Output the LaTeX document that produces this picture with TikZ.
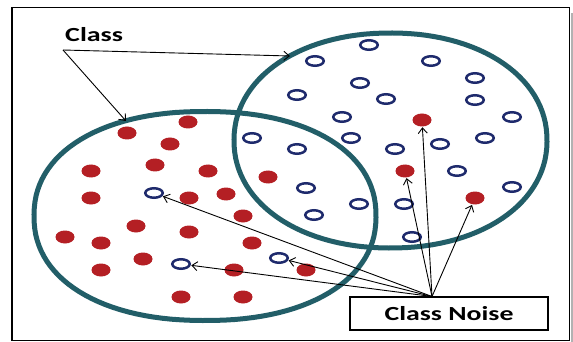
\documentclass[tikz,border=0pt]{standalone}
\usepackage{fontspec}
\setmainfont{Carlito}
\usetikzlibrary{arrows.meta,shapes.geometric}
\definecolor{ringc}{RGB}{34,94,104}
\definecolor{dotred}{RGB}{180,31,36}
\definecolor{dotblue}{RGB}{30,42,108}
\tikzset{
  ring/.style={draw=ringc, line width=5pt},
  rdot/.style={ellipse, fill=dotred, minimum width=19pt, minimum height=13pt, inner sep=0pt},
  bdot/.style={ellipse, draw=dotblue, line width=2.5pt, fill=white, minimum width=17.5pt, minimum height=9.5pt, inner sep=0pt},
  arr/.style={draw=black, line width=0.9pt, -{Straight Barb[length=5.5pt,width=9pt]}},
  lbl/.style={font=\fontsize{20}{20}\selectfont\bfseries, inner sep=0pt}
}
\begin{document}
\begin{tikzpicture}[x=1pt,y=-1pt]
\useasboundingbox (0,0) rectangle (573,342);
\fill[white] (0,0) rectangle (573,342);
% frame
\draw[gray!60, line width=1.5pt] (572,13) -- (572,342);
\draw[black, line width=1.5pt] (12,7.5) rectangle (569.5,340.5);
% rings
\draw[ring] plot[domain=0.5:360.5, samples=121] ({205+171*sign(cos(\x))*abs(cos(\x))^0.909}, {216+104.5*sign(sin(\x))*abs(sin(\x))^0.909}) -- cycle;
\draw[ring] plot[domain=0.5:360.5, samples=121] ({390.5+156.5*sign(cos(\x))*abs(cos(\x))^0.952}, {140.5+107.5*sign(sin(\x))*abs(sin(\x))^0.952}) -- cycle;
% red dots
\foreach \i/\p in {1/{127,133},2/{188,122},3/{170,144},4/{91,171},5/{155,165},6/{208,171},7/{91,198},8/{189,198},9/{226,194},10/{268,177},11/{243,216},12/{136,226},13/{189,232},14/{65,237},15/{101,243},16/{252,243},17/{143,259},18/{101,270},19/{234,270},20/{306,270},21/{181,297},22/{243,297}}
  \node[rdot] (r\i) at (\p) {};
\node[rdot] (n1) at (422,120) {};
\node[rdot] (n2) at (405,171) {};
\node[rdot] (n3) at (475,198) {};
% blue rings
\foreach \i/\p in {1/{369,45},2/{315,61},3/{431,61},4/{360,83},5/{475,78},6/{297,95},7/{386,99},8/{475,100},9/{342,117},10/{512,117},11/{252,138},12/{351,138},13/{485,138},14/{297,149},15/{395,149},16/{440,144},17/{457,171},18/{306,188},19/{512,187},20/{359,204},21/{404,204},22/{314,215},23/{412,237}}
  \node[bdot] (b\i) at (\p) {};
\node[bdot] (m1) at (154,193) {};
\node[bdot] (m2) at (181,264) {};
\node[bdot] (m3) at (279,258) {};
% labels
\node[lbl, anchor=base west] (cls) at (65,41.5) {\scalebox{1.4}[1]{Class}};
\coordinate (clsarr) at (63,50);
\coordinate (tipR) at (290,56);
\coordinate (tipL) at (126,121);
\draw[arr] (clsarr) -- (tipR);
\draw[arr] (clsarr) -- (tipL);
\node[draw=black, line width=1.6pt, minimum width=198pt, minimum height=33pt, inner sep=0pt, fill=white] (noise) at (449,313.5) {};
\node[lbl] (noisetxt) at (449,314) {\scalebox{1.39}[1]{Class Noise}};
\coordinate (src) at (432,296.5);
\foreach \t in {n1,n2,n3,m1,m2,m3}
  \draw[arr, shorten >=0.5pt] (src) -- (\t);
\end{tikzpicture}
\end{document}
